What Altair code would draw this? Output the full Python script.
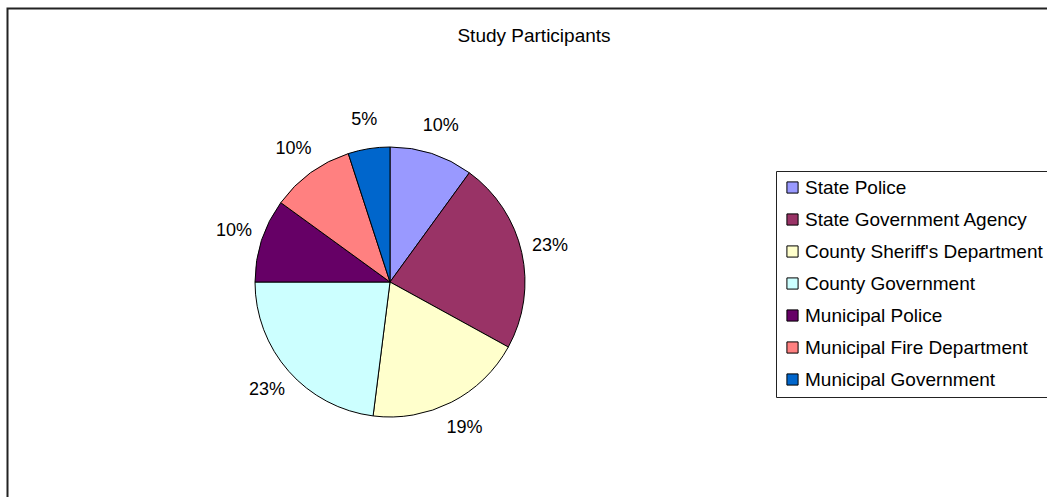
import altair as alt
import pandas as pd

# ---- data ----
categories = [
    "State Police",
    "State Government Agency",
    "County Sheriff's Department",
    "County Government",
    "Municipal Police",
    "Municipal Fire Department",
    "Municipal Government",
]
percents = [10, 23, 19, 23, 10, 10, 5]
colors = ["#9999FF", "#993366", "#FFFFCC", "#CCFFFF", "#660066", "#FF8080", "#0066CC"]
title_text = ["Study Participants"]

FONT = "Liberation Sans"

df = pd.DataFrame({
    "category": categories,
    "value": percents,
    "order": list(range(len(categories))),
    "label": [f"{p}%" for p in percents],
})

CX, CY, R = 390, 282, 135

arc = alt.Chart(df).mark_arc(outerRadius=R, stroke="black", strokeWidth=1).encode(
    theta=alt.Theta("value:Q", stack=True),
    order=alt.Order("order:Q"),
    x=alt.value(CX),
    y=alt.value(CY),
    color=alt.Color(
        "category:N",
        scale=alt.Scale(domain=categories, range=colors),
        sort=categories,
        legend=alt.Legend(
            title=None,
            orient="none",
            legendX=776,
            legendY=171,
            symbolType="square",
            symbolSize=125,
            symbolStrokeColor="black",
            symbolStrokeWidth=1,
            symbolOpacity=1,
            labelFont=FONT,
            labelFontSize=19,
            labelColor="black",
            labelLimit=500,
            labelOffset=3,
            rowPadding=12,
            padding=7,
            strokeColor="#222222",
            fillColor="white",
        ),
    ),
)

labels = alt.Chart(df).mark_text(
    radius=164, font=FONT, fontSize=18, color="black"
).encode(
    theta=alt.Theta("value:Q", stack=True),
    order=alt.Order("order:Q"),
    detail="category:N",
    x=alt.value(CX),
    y=alt.value(CY),
    text="label:N",
)

title = alt.Chart(pd.DataFrame({"t": title_text})).mark_text(
    font=FONT, fontSize=19, color="black", align="center", baseline="middle"
).encode(x=alt.value(534), y=alt.value(36), text="t:N")

frame = alt.Chart(pd.DataFrame({"t": title_text})).mark_rect(
    fillOpacity=0, stroke="#222222", strokeWidth=2
).encode(
    x=alt.value(7.5), y=alt.value(8.5), x2=alt.value(1200), y2=alt.value(700)
)

chart = alt.layer(frame, arc, labels, title).properties(
    width=1047,
    height=497,
    padding=0,
    autosize=alt.AutoSizeParams(type="none"),
).configure_view(stroke="transparent")

chart.save("out.html", embed_options={"renderer": "svg", "actions": False})
